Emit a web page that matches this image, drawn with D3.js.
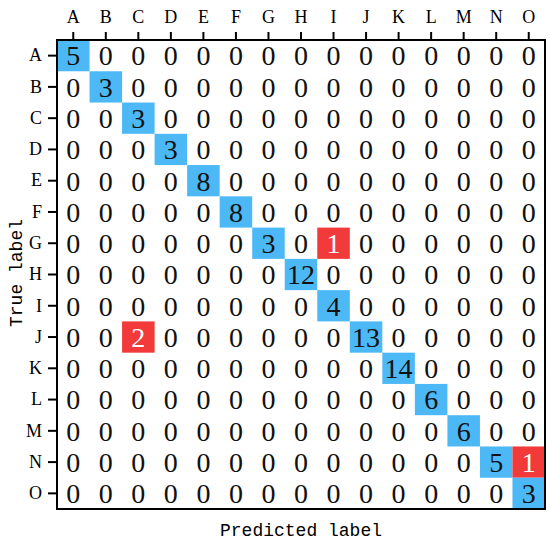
<!DOCTYPE html>
<html>
<head>
<meta charset="utf-8">
<script src="https://cdn.jsdelivr.net/npm/d3@7"></script>
<style>
  html, body { margin: 0; padding: 0; background: #fff; }
  svg { display: block; }
</style>
</head>
<body>
<svg id="chart" width="550" height="544"></svg>
<script>
const labels = ["A","B","C","D","E","F","G","H","I","J","K","L","M","N","O"];
const diagonal = [5,3,3,3,8,8,3,12,4,13,14,6,6,5,3];
// misclassifications: [true, predicted, count]
const errors = [["G","I",1],["J","C",2],["N","O",1]];

const cells = [];
labels.forEach((t, i) => {
  labels.forEach((p, j) => {
    let v = 0;
    if (i === j) v = diagonal[i];
    const e = errors.find(d => d[0] === t && d[1] === p);
    if (e) v = e[2];
    cells.push({t, p, v, diag: i === j});
  });
});

const svg = d3.select("#chart");
const gLeft = 57, gRight = 545, gTop = 40, gBottom = 509;
const x = d3.scaleBand().domain(labels).range([gLeft, gRight]);
const y = d3.scaleBand().domain(labels).range([gTop, gBottom]);

const blue = "#4cb8f6", red = "#f23a3a";

svg.append("g").selectAll("rect").data(cells.filter(d => d.v > 0)).join("rect")
  .attr("x", d => x(d.p)).attr("y", d => y(d.t))
  .attr("width", x.bandwidth()).attr("height", y.bandwidth())
  .attr("fill", d => d.diag ? blue : red);

svg.append("g").selectAll("text").data(cells).join("text")
  .attr("x", d => x(d.p) + x.bandwidth()/2)
  .attr("y", d => y(d.t) + y.bandwidth()/2)
  .attr("dy", "0.35em")
  .attr("text-anchor", "middle")
  .attr("font-family", "Liberation Serif, serif")
  .attr("font-size", 28)
  .attr("fill", d => (d.v > 0 && !d.diag) ? "#fff" : "#111")
  .text(d => d.v);

const xAxis = svg.append("g").attr("transform", `translate(0,${gTop})`)
  .call(d3.axisTop(x).tickSize(8).tickPadding(9));
const yAxis = svg.append("g").attr("transform", `translate(${gLeft},0)`)
  .call(d3.axisLeft(y).tickSize(9).tickPadding(6));
[xAxis, yAxis].forEach(a => {
  a.select(".domain").remove();
  a.selectAll(".tick line").attr("stroke", "#000").attr("stroke-width", 2);
  a.selectAll(".tick text").attr("font-family", "Liberation Serif, serif")
    .attr("font-size", 18).attr("fill", "#000");
});

svg.append("rect").attr("x", gLeft).attr("y", gTop)
  .attr("width", gRight - gLeft).attr("height", gBottom - gTop)
  .attr("fill", "none").attr("stroke", "#000").attr("stroke-width", 2);

svg.append("text").attr("x", (gLeft + gRight)/2).attr("y", 536)
  .attr("text-anchor", "middle")
  .attr("font-family", "Liberation Mono, monospace").attr("font-size", 18)
  .text("Predicted label");

svg.append("text")
  .attr("transform", `translate(22,273) rotate(-90)`)
  .attr("text-anchor", "middle")
  .attr("font-family", "Liberation Mono, monospace").attr("font-size", 18)
  .text("True label");
</script>
</body>
</html>
